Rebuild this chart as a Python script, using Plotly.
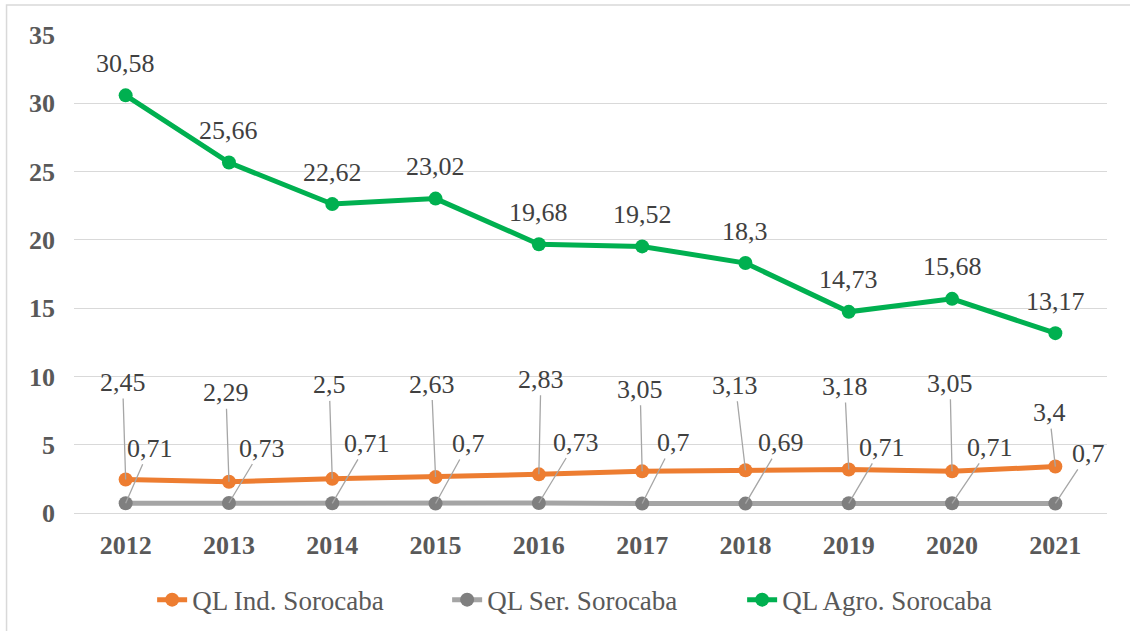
import plotly.graph_objects as go

years = ["2012", "2013", "2014", "2015", "2016", "2017", "2018", "2019", "2020", "2021"]
ql_ind = [2.45, 2.29, 2.5, 2.63, 2.83, 3.05, 3.13, 3.18, 3.05, 3.4]
ql_ser = [0.71, 0.73, 0.71, 0.7, 0.73, 0.7, 0.69, 0.71, 0.71, 0.7]
ql_agro = [30.58, 25.66, 22.62, 23.02, 19.68, 19.52, 18.3, 14.73, 15.68, 13.17]
y_ticks = [0, 5, 10, 15, 20, 25, 30, 35]

# label placement offsets (pixels) for leader-line labels
ind_off_x = [-3, -3, -3, -4, 2, -2, -10, -4, -2, -6]
ind_off_y = [-97, -89, -94, -93, -95, -82, -85, -83, -88, -54]
ser_off_x = [24, 33, 35, 33, 37, 31, 36, 33, 38, 33]
ser_off_y = [-55, -55, -60, -60, -61, -61, -61, -56, -56, -50]

FONT = "Liberation Serif, Tinos, DejaVu Serif, serif"

def fmt(v):
    s = ("%.2f" % v).rstrip("0").rstrip(".")
    return s.replace(".", ",")

fig = go.Figure()
fig.add_trace(go.Scatter(x=years, y=ql_ind, name="QL Ind. Sorocaba", mode="lines+markers",
                         line=dict(color="#ED7D31", width=5), marker=dict(color="#ED7D31", size=14)))
fig.add_trace(go.Scatter(x=years, y=ql_ser, name="QL Ser. Sorocaba", mode="lines+markers",
                         line=dict(color="#A5A5A5", width=5), marker=dict(color="#7F7F7F", size=14)))
fig.add_trace(go.Scatter(x=years, y=ql_agro, name="QL Agro. Sorocaba", mode="lines+markers",
                         line=dict(color="#00B050", width=5), marker=dict(color="#00B050", size=14)))

annotations = []
lab_font = dict(family=FONT, size=26, color="#404040")
for i, yr in enumerate(years):
    annotations.append(dict(x=i, y=ql_agro[i], text=fmt(ql_agro[i]), showarrow=False,
                            yshift=32, font=lab_font))
    annotations.append(dict(x=i, y=ql_ind[i], text=fmt(ql_ind[i]), showarrow=True,
                            ax=ind_off_x[i], ay=ind_off_y[i], arrowhead=0, arrowwidth=1.3,
                            arrowcolor="#A6A6A6", standoff=0, font=lab_font))
    annotations.append(dict(x=i, y=ql_ser[i], text=fmt(ql_ser[i]), showarrow=True,
                            ax=ser_off_x[i], ay=ser_off_y[i], arrowhead=0, arrowwidth=1.3,
                            arrowcolor="#A6A6A6", standoff=0, font=lab_font))

fig.update_layout(
    width=1130, height=631,
    margin=dict(l=74, r=23, t=35, b=118, autoexpand=False),
    paper_bgcolor="white", plot_bgcolor="white",
    font=dict(family=FONT, size=26, color="#595959"),
    showlegend=True,
    legend=dict(orientation="h", x=0.504, xanchor="center", yref="container", y=0.049,
                yanchor="middle",
                font=dict(family=FONT, size=27, color="#595959"), entrywidth=250,
                itemclick=False),
    annotations=annotations,
    shapes=[dict(type="rect", xref="paper", yref="paper", x0=-0.0653, x1=1.2, y0=-0.4, y1=1.0628,
                 line=dict(color="#D9D9D9", width=1.5), layer="below")],
    xaxis=dict(type="category", range=[-0.5, len(years) - 0.5], autorange=False,
               showgrid=False, showline=False, ticks="",
               tickfont=dict(family=FONT, size=26, color="#595959", weight="bold"),
               ticklabelstandoff=14),
    yaxis=dict(range=[0, 35], autorange=False, tickvals=y_ticks, showgrid=True,
               gridcolor="#D9D9D9", gridwidth=1,
               zeroline=True, zerolinecolor="#D9D9D9", zerolinewidth=1, showline=False, ticks="",
               tickfont=dict(family=FONT, size=26, color="#595959", weight="bold"),
               ticklabelstandoff=18),
)

fig.write_html("out.html", config=dict(displayModeBar=False),
               post_script="document.body.style.margin='0';document.body.style.overflow='hidden';")
